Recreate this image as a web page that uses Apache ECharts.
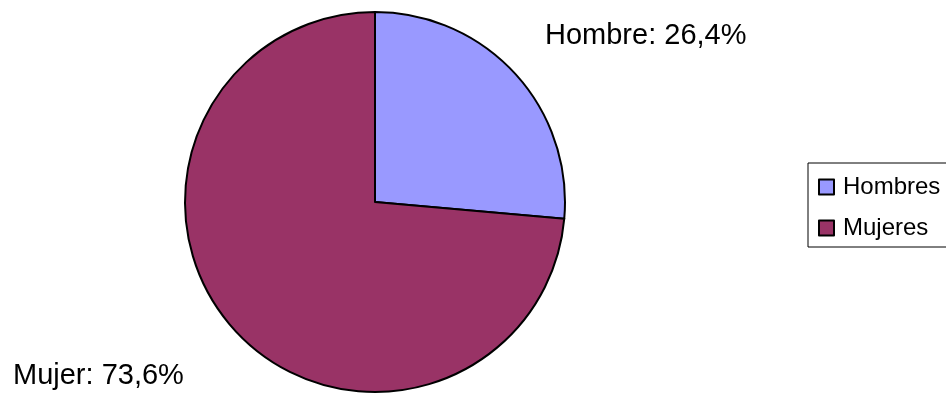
<!DOCTYPE html>
<html>
<head>
<meta charset="utf-8">
<script src="https://cdn.jsdelivr.net/npm/echarts@6/dist/echarts.min.js"></script>
<style>html,body{margin:0;padding:0;background:#fff;}#c{width:946px;height:396px;}</style>
</head>
<body>
<div id="c"></div>
<script>
var categories = ['Hombres', 'Mujeres'];
var labelNames = ['Hombre', 'Mujer'];
var values = [26.4, 73.6];
var colors = ['#9999FF', '#993366'];

var chart = echarts.init(document.getElementById('c'));
var labelPos = [
  {x: 545, y: 36, align: 'left'},
  {x: 13, y: 376, align: 'left'}
];
chart.setOption({
  animation: false,
  legend: {
    orient: 'vertical',
    left: 808,
    top: 163,
    padding: [12, 40, 7, 10],
    borderColor: '#000',
    borderWidth: 1,
    itemWidth: 15,
    itemHeight: 15,
    itemGap: 17,
    icon: 'rect',
    textStyle: {fontFamily: 'Liberation Sans', fontSize: 24, color: '#000', padding: [0, 0, 0, 4]},
    data: categories
  },
  series: [{
    type: 'pie',
    center: [375, 202],
    radius: 190,
    startAngle: 90,
    clockwise: true,
    silent: true,
    itemStyle: {borderColor: '#000', borderWidth: 2},
    label: {
      show: true,
      position: 'outside',
      fontFamily: 'Liberation Sans',
      fontSize: 29,
      color: '#000',
      formatter: function (p) {
        return labelNames[p.dataIndex] + ': ' + p.value.toFixed(1).replace('.', ',') + '%';
      }
    },
    labelLine: {show: false},
    labelLayout: function (params) {
      var lp = labelPos[params.dataIndex];
      return {x: lp.x, y: lp.y, align: lp.align, verticalAlign: 'middle'};
    },
    data: categories.map(function (c, i) {
      return {name: c, value: values[i], itemStyle: {color: colors[i]}};
    })
  }]
});
</script>
</body>
</html>
